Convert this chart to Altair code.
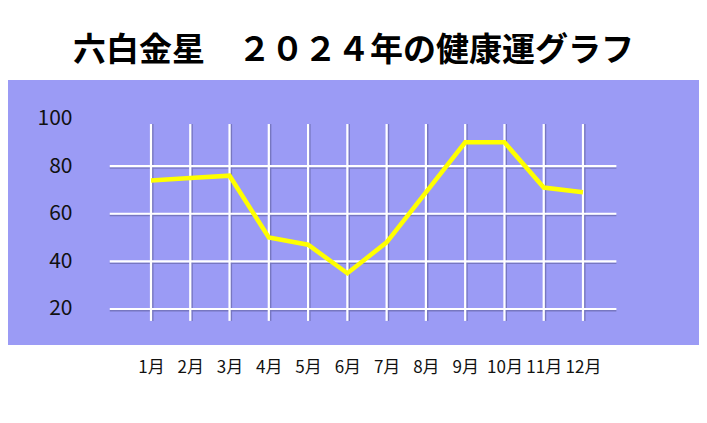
import json
import altair as alt
import pandas as pd

# ---- data ----
months = ["1月", "2月", "3月", "4月", "5月", "6月", "7月", "8月", "9月", "10月", "11月", "12月"]
month_idx = [1, 2, 3, 4, 5, 6, 7, 8, 9, 10, 11, 12]
health = [74, 75, 76, 50, 47, 35, 48, 69, 90, 90, 71, 69]
y_ticks = [20, 40, 60, 80, 100]
h_grid = [20, 40, 60, 80]
title_text = "六白金星　２０２４年の健康運グラフ"

# grid extents (data units)
v_grid_lo, v_grid_hi = 15, 97.7
h_grid_lo, h_grid_hi = -0.05, 12.85

df = pd.DataFrame({"m": month_idx, "label": months, "v": health})
vg = pd.DataFrame({"m": month_idx, "lo": [v_grid_lo] * 12, "hi": [v_grid_hi] * 12})
hg = pd.DataFrame({"v": h_grid, "lo": [h_grid_lo] * 4, "hi": [h_grid_hi] * 4})

xscale = alt.Scale(domain=[-2.641, 14.954], nice=False, zero=False)
yscale = alt.Scale(domain=[4.87, 116.2], nice=False, zero=False)

label_expr = json.dumps(months) + "[datum.value - 1]"

xaxis = alt.Axis(values=month_idx, labelExpr=label_expr, title=None, grid=False,
                 domain=False, ticks=False, labelPadding=14, labelFontSize=17,
                 labelColor="#111111", labelFont="Noto Sans CJK JP")
yaxis = alt.Axis(values=y_ticks, title=None, grid=False, domain=False, ticks=False,
                 offset=-64, labelPadding=0, labelFontSize=21, labelColor="#111111",
                 labelFont="Noto Sans CJK JP")

shadow = "#7777c0"

vshadow = alt.Chart(vg).mark_rule(color=shadow, strokeWidth=1.5, xOffset=1.8).encode(
    x=alt.X("m:Q", scale=xscale, axis=xaxis),
    y=alt.Y("lo:Q", scale=yscale, axis=yaxis),
    y2="hi:Q",
)
hshadow = alt.Chart(hg).mark_rule(color=shadow, strokeWidth=1.5, yOffset=1.8).encode(
    y=alt.Y("v:Q", scale=yscale),
    x=alt.X("lo:Q", scale=xscale),
    x2="hi:Q",
)
vrules = alt.Chart(vg).mark_rule(color="white", strokeWidth=2.2).encode(
    x=alt.X("m:Q", scale=xscale),
    y=alt.Y("lo:Q", scale=yscale),
    y2="hi:Q",
)
hrules = alt.Chart(hg).mark_rule(color="white", strokeWidth=2.2).encode(
    y=alt.Y("v:Q", scale=yscale),
    x=alt.X("lo:Q", scale=xscale),
    x2="hi:Q",
)
line = alt.Chart(df).mark_line(color="#ffff00", strokeWidth=4.5).encode(
    x=alt.X("m:Q", scale=xscale),
    y=alt.Y("v:Q", scale=yscale),
)

chart = alt.layer(vshadow, hshadow, vrules, hrules, line).properties(
    width=691,
    height=265,
    autosize=alt.AutoSizeParams(type="none"),
    padding={"top": 72, "left": 0, "right": 0, "bottom": 45},
    background="white",
    title=alt.TitleParams(title_text, fontSize=33, fontWeight="bold",
                          font="Noto Sans CJK JP", color="#000000",
                          anchor="middle", offset=12),
).configure_view(fill="#9b9bf5", stroke=None)

chart.save("out.html", embed_options={"renderer": "svg", "actions": False})
